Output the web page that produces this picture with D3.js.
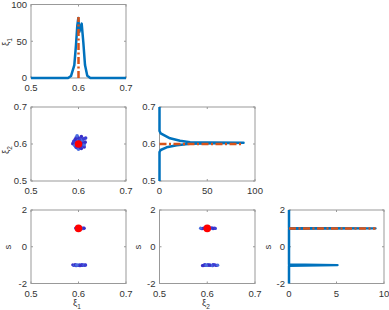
<!DOCTYPE html>
<html><head><meta charset="utf-8">
<script src="https://cdn.jsdelivr.net/npm/d3@7"></script>
<style>body{margin:0;background:#fff}svg{display:block}text{font-family:"Liberation Sans",Arial,sans-serif}</style>
</head><body><svg id="c" width="389" height="310"></svg>
<script>
// ---- data ----
const xiTicks=[0.5,0.6,0.7];
const dens1Ticks=[0,50,100];
const dens2Ticks=[0,50,100];
const dens3Ticks=[0,5,10];
const sTicks=[-2,0,2];

const xi1Grid=[0.5,0.578,0.5842,0.5912,0.5947,0.5975,0.5996,0.6008,0.602,0.6045,0.6067,0.6101,0.6137,0.6185,0.625,0.7];
const xi1Dens=[0,0,2.7,17.6,44.6,71.6,81.5,72,63,70,74,49,17.6,3,0,0];

const xi2Grid=[0.5,0.578,0.5838,0.591,0.5965,0.6008,0.602,0.6032,0.6042,0.6046,0.609,0.6154,0.6289,0.635,0.7];
const xi2Dens=[0,0,1.2,7.5,18,32,60,88,50,32,21.5,11,1.2,0,0];

const sGrid=[-2,-1.04,-1.0,-0.97,0.98,1.0,1.02,2];
const sDens=[0,0,5.1,0,0,9.1,0,0];

const trueXi1=0.6, trueXi2=0.6, trueS=1;
const trueXi1Height=83, trueXi2Height=87, trueSHeight=9.1;

const sampXi1=[0.594,0.596,0.597,0.598,0.599,0.600,0.601,0.602,0.603,0.604,0.605,0.606,0.607,0.608,0.609,0.610,0.611,0.612,0.595,0.600,
 0.588,0.590,0.592,0.593,0.595,0.596,0.598,0.599,0.601,0.602,0.603,0.605,0.606,0.607,0.608,0.609,0.611,0.612,0.614,0.615,0.597,0.604];
const sampXi2=[0.604,0.612,0.596,0.590,0.608,0.600,0.615,0.594,0.604,0.610,0.598,0.588,0.606,0.601,0.613,0.596,0.603,0.592,0.617,0.586,
 0.601,0.607,0.596,0.612,0.591,0.603,0.618,0.597,0.606,0.593,0.611,0.600,0.620,0.595,0.609,0.602,0.614,0.598,0.605,0.616,0.622,0.590];
const sampS=[1.02,0.98,1.03,0.99,1.01,0.97,1.02,1.00,0.98,1.03,1.01,0.99,1.02,0.98,1.00,1.02,0.99,1.01,1.00,1.01,
 -0.98,-1.02,-1.00,-0.97,-1.03,-0.99,-1.01,-1.02,-0.98,-1.00,-1.03,-0.99,-1.01,-0.97,-1.02,-1.00,-0.98,-1.01,-1.00,-0.99,-1.00,-1.02];
const sampColors=["#3b3fd4","#4a6ee0","#3a2fc8"];

// ---- layout ----
const colX=[[31,126],[159.5,255],[289,384]];
const rowY=[[4.5,78],[107,181],[210,283.5]];
const blue="#0072BD", orange="#D95319";
const svg=d3.select("#c");

function panel(c,r,xd,yd,xt,yt){
  const x=d3.scaleLinear().domain(xd).range(colX[c]);
  const y=d3.scaleLinear().domain(yd).range([rowY[r][1],rowY[r][0]]);
  const g=svg.append("g");
  const [x0,x1]=colX[c],[y0,y1]=rowY[r];
  g.append("rect").attr("x",x0).attr("y",y0).attr("width",x1-x0).attr("height",y1-y0)
   .attr("fill","#fff").attr("stroke","#999").attr("stroke-width",1);
  xt.forEach(v=>{
    const px=x(v);
    g.append("line").attr("x1",px).attr("x2",px).attr("y1",y1).attr("y2",y1-2).attr("stroke","#999");
    g.append("line").attr("x1",px).attr("x2",px).attr("y1",y0).attr("y2",y0+2).attr("stroke","#999");
    g.append("text").attr("x",px).attr("y",y1+13).attr("text-anchor","middle")
     .attr("font-size",9.5).attr("fill","#333").text(String(v));
  });
  yt.forEach(v=>{
    const py=y(v);
    g.append("line").attr("x1",x0).attr("x2",x0+2).attr("y1",py).attr("y2",py).attr("stroke","#999");
    g.append("line").attr("x1",x1).attr("x2",x1-2).attr("y1",py).attr("y2",py).attr("stroke","#999");
    g.append("text").attr("x",x0-4).attr("y",py).attr("dy","0.35em").attr("text-anchor","end")
     .attr("font-size",9.5).attr("fill","#333").text(String(v));
  });
  return {x,y,g};
}

function sublabel(g,cx,cy,base,sub,rot){
  const t=g.append("text").attr("text-anchor","middle").attr("font-size",9.5).attr("fill","#333")
   .attr("transform",`translate(${cx},${cy})`+(rot?" rotate(-90)":""));
  t.append("tspan").text(base);
  if(sub) t.append("tspan").attr("font-size",6.5).attr("dy",2.5).text(sub);
  return t;
}

// Panel 1: xi1 marginal
{
  const {x,y,g}=panel(0,0,[0.5,0.7],[0,100],xiTicks,dens1Ticks);
  g.append("path").datum(d3.zip(xi1Grid,xi1Dens))
   .attr("d",d3.line().x(d=>x(d[0])).y(d=>y(d[1])))
   .attr("fill","none").attr("stroke",blue).attr("stroke-width",2.5).attr("stroke-linejoin","round");
  g.append("line").attr("x1",x(trueXi1)).attr("x2",x(trueXi1)).attr("y1",y(0)).attr("y2",y(trueXi1Height))
   .attr("stroke",orange).attr("stroke-width",2.5).attr("stroke-dasharray","7,2.5,2,2.5");
  sublabel(g,9,42,"ξ","1",true);
}
// Panel (xi1, xi2)
{
  const {x,y,g}=panel(0,1,[0.5,0.7],[0.5,0.7],xiTicks,xiTicks);
  g.selectAll("circle.s").data(d3.range(sampXi1.length)).join("circle")
   .attr("cx",i=>x(sampXi1[i])).attr("cy",i=>y(sampXi2[i])).attr("r",1.8)
   .attr("fill",i=>sampColors[i%3]);
  g.append("circle").attr("cx",x(trueXi1)).attr("cy",y(trueXi2)).attr("r",3.8).attr("fill","#ff0000");
  sublabel(g,9,150,"ξ","2",true);
}
// Panel (xi1, s)
{
  const {x,y,g}=panel(0,2,[0.5,0.7],[-2,2],xiTicks,sTicks);
  g.selectAll("circle.s").data(d3.range(sampXi1.length)).join("circle")
   .attr("cx",i=>x(sampXi1[i])).attr("cy",i=>y(sampS[i])).attr("r",1.6)
   .attr("fill",i=>sampColors[i%3]);
  g.append("circle").attr("cx",x(trueXi1)).attr("cy",y(trueS)).attr("r",3.8).attr("fill","#ff0000");
  sublabel(g,11,247,"s","",true);
  sublabel(g,77,306,"ξ","1",false);
}
// Panel xi2 marginal (horizontal)
{
  const {x,y,g}=panel(1,1,[0,100],[0.5,0.7],dens2Ticks,xiTicks);
  g.append("path").datum(d3.zip(xi2Grid,xi2Dens))
   .attr("d",d3.line().x(d=>x(d[1])).y(d=>y(d[0])))
   .attr("fill","none").attr("stroke",blue).attr("stroke-width",2.5).attr("stroke-linejoin","round");
  g.append("line").attr("x1",x(0)).attr("x2",x(trueXi2Height)).attr("y1",y(trueXi2)).attr("y2",y(trueXi2))
   .attr("stroke",orange).attr("stroke-width",2.5).attr("stroke-dasharray","7,2.5,2,2.5");
}
// Panel (xi2, s)
{
  const {x,y,g}=panel(1,2,[0.5,0.7],[-2,2],xiTicks,sTicks);
  g.selectAll("circle.s").data(d3.range(sampXi2.length)).join("circle")
   .attr("cx",i=>x(sampXi2[i])).attr("cy",i=>y(sampS[i])).attr("r",1.6)
   .attr("fill",i=>sampColors[i%3]);
  g.append("circle").attr("cx",x(trueXi2)).attr("cy",y(trueS)).attr("r",3.8).attr("fill","#ff0000");
  sublabel(g,141,247,"s","",true);
  sublabel(g,206,306,"ξ","2",false);
}
// Panel s marginal
{
  const {x,y,g}=panel(2,2,[0,10],[-2,2],dens3Ticks,sTicks);
  g.append("path").datum(d3.zip(sGrid,sDens))
   .attr("d",d3.line().x(d=>x(d[1])).y(d=>y(d[0])))
   .attr("fill","none").attr("stroke",blue).attr("stroke-width",2.5).attr("stroke-linejoin","round");
  g.append("line").attr("x1",x(0)).attr("x2",x(trueSHeight)).attr("y1",y(trueS)).attr("y2",y(trueS))
   .attr("stroke",orange).attr("stroke-width",2.5).attr("stroke-dasharray","7,2.5,2,2.5");
  sublabel(g,271,247,"s","",true);
}
</script></body></html>
